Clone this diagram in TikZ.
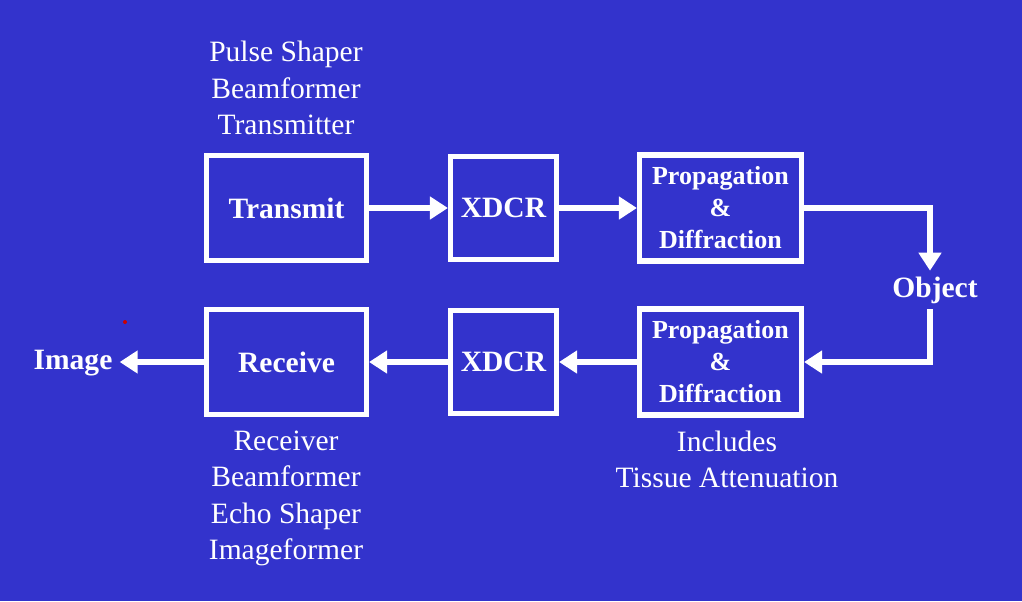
\documentclass[tikz,border=0pt]{standalone}
\usepackage{fontspec}
\setmainfont{Liberation Serif}
\usepackage{xcolor}
\usetikzlibrary{arrows.meta, calc}
\definecolor{slideblue}{RGB}{51,51,204}

\begin{document}
\begin{tikzpicture}[x=0.025cm, y=-0.025cm, >={Triangle[length=4.5mm, width=5.5mm]},
  every node/.style={text=white},
  blockbox/.style={draw=white, line width=3.6pt, font=\fontsize{21}{25}\selectfont\bfseries},
  propbox/.style={blockbox, align=center, minimum width=4.05cm, minimum height=2.65cm, font=\fontsize{18.5}{22.8}\selectfont\bfseries},
  notes/.style={align=center, font=\fontsize{21}{26}\selectfont},
  link/.style={draw=white, line width=3.6pt}]
  \fill[slideblue] (0,0) rectangle (1022,601);
  \useasboundingbox (0,0) rectangle (1022,601);
  % top row
  \node[blockbox, minimum width=4.0cm, minimum height=2.625cm] (TX) at (286.5,208) {Transmit};
  \node[blockbox, minimum width=2.65cm, minimum height=2.575cm] (XD1) at (503.5,208) {XDCR};
  \node[propbox] (PD1) at (720.5,208) {Propagation\\\&\\Diffraction};
  % bottom row
  \node[propbox] (PD2) at (720.5,362) {Propagation\\\&\\Diffraction};
  \node[blockbox, minimum width=2.65cm, minimum height=2.575cm] (XD2) at (503.5,362) {XDCR};
  \node[blockbox, minimum width=4.0cm, minimum height=2.625cm] (RX) at (286.5,362) {Receive};
  \node[font=\fontsize{21}{25}\selectfont\bfseries, inner sep=4pt] (OBJ) at (935,290) {Object};
  \node[font=\fontsize{21}{25}\selectfont\bfseries, inner sep=5pt] (IMG) at (73,363) {Image};
  % notes
  \node[notes] (txnote) at (286,88) {Pulse Shaper\\Beamformer\\Transmitter};
  \node[notes] (rxnote) at (286,498.5) {Receiver\\Beamformer\\Echo Shaper\\Imageformer};
  \node[notes] (pdnote) at (727,459.5) {Includes\\Tissue Attenuation};
  % links
  \draw[link, ->] (TX.east) -- (XD1.west);
  \draw[link, ->] (XD1.east) -- (PD1.west);
  \draw[link, ->] (PD1.east) -| ($(OBJ.north)+(-5,0)$);
  \draw[link, ->] ($(OBJ.south)+(-5,0)$) |- (PD2.east);
  \draw[link, ->] (PD2.west) -- (XD2.east);
  \draw[link, ->] (XD2.west) -- (RX.east);
  \draw[link, ->] (RX.west) -- (RX.west -| IMG.east);
  \fill[red!80!black] (125,322) circle (2);
\end{tikzpicture}
\end{document}
